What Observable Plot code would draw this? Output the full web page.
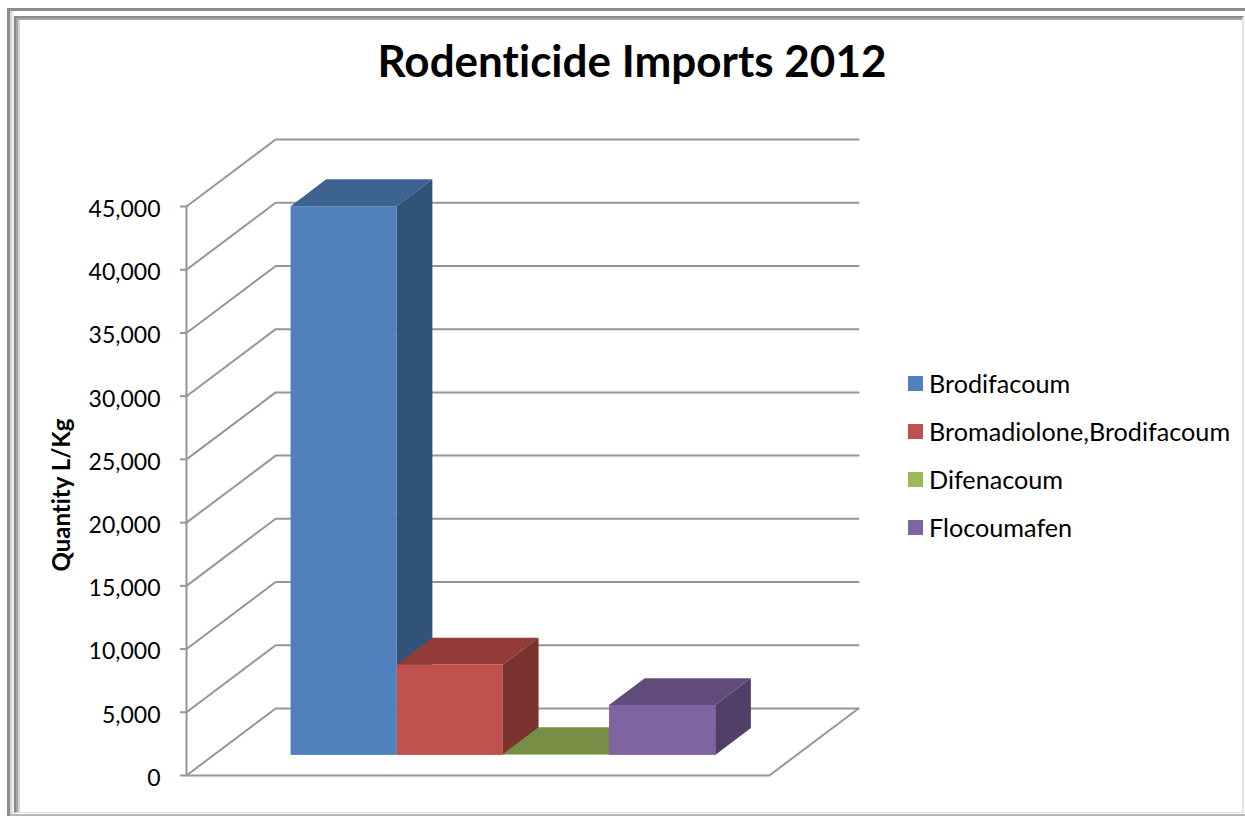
<!DOCTYPE html>
<html>
<head>
<meta charset="utf-8">
<script src="https://cdn.jsdelivr.net/npm/d3@7"></script>
<script src="https://cdn.jsdelivr.net/npm/@observablehq/plot@0.6"></script>
<style>
html,body{margin:0;padding:0;background:#fff;overflow:hidden}
#page{position:relative;width:1245px;height:816px;font-family:Lato,sans-serif;color:#000;overflow:hidden;font-variant-ligatures:none}
#page svg text{font-variant-ligatures:none}
#outer{position:absolute;left:7px;top:8px;width:1240px;height:815px;box-sizing:border-box;border-left:3px solid #8e8e8e;border-top:3px solid #8e8e8e;box-shadow:inset 2px 0 0 #d8d8d8,inset 4px 0 0 #eeeeee}
#inner{position:absolute;left:14px;top:16px;width:1230px;height:797px;box-sizing:border-box;border-left:2px solid #8a8a8a;border-top:2px solid #8a8a8a;border-right:2px solid #e4e4e4;border-bottom:1px solid #dddddd;box-shadow:inset 2px 2px 0 #a6a6a6,inset 4px 2px 0 #d2d2d2}
#bottomline{position:absolute;left:10px;top:814px;width:1235px;height:2px;background:#b8b8b8}
#title{position:absolute;left:0;top:33px;width:1264px;text-align:center;font-size:44px;font-weight:700;line-height:54px;margin:0}
#chart{position:absolute;left:0;top:0}
#legend{position:absolute;left:908px;top:359px}
.row{height:48px;display:flex;align-items:center;font-size:25.2px;white-space:nowrap}
.sw{width:15px;height:15px;margin-right:6px;flex:none}
</style>
</head>
<body>
<div id="page">
  <div id="outer"></div>
  <div id="inner"></div>
  <div id="bottomline"></div>
  <div id="chart"></div>
  <h1 id="title"></h1>
  <div id="legend"></div>
</div>
<script>
const title = "Rodenticide Imports 2012";
const yLabel = "Quantity L/Kg";
const categories = ["Brodifacoum", "Bromadiolone,Brodifacoum", "Difenacoum", "Flocoumafen"];
const values = [43400, 7150, 60, 3950];
const yTicks = [0, 5000, 10000, 15000, 20000, 25000, 30000, 35000, 40000, 45000];

const frontColors = ["#4f81bd", "#c0504d", "#9bbb59", "#8064a2"];
const topColors   = ["#3e6390", "#923b39", "#768f44", "#614b7b"];
const sideColors  = ["#325378", "#7a322f", "#5f7337", "#523f68"];

// Oblique "3D" projection, expressed in data units.
const slots = 5.49;          // floor width, in bar widths
const wallDepthX = 0.84;     // back wall shift, in bar widths
const wallDepthY = 5300;     // back wall rise, in y units
const barStart = 0.985;      // first bar's left edge on the front plane
const barBase = 0.3;         // fraction of depth where bars start
const barDepth = 0.4;        // fraction of depth that bars occupy

const px = (u, d) => u + d * wallDepthX;
const py = (v, d) => v + d * wallDepthY;

const grid = yTicks.flatMap(t => [
  {t, x: px(0, 0), y: py(t, 0)},
  {t, x: px(0, 1), y: py(t, 1)},
  {t, x: px(slots, 1), y: py(t, 1)}
]);
const floor = [
  {x: px(0, 0), y: py(0, 0)},
  {x: px(slots, 0), y: py(0, 0)},
  {x: px(slots, 1), y: py(0, 1)}
];

// One bar = top face, side face, front face; bars are painted left to right.
function barMarks(v, i) {
  const left = barStart + i, right = left + 1;
  const shift = barDepth * wallDepthX;
  const top = [
    {y: py(v, barBase), x1: left, x2: right},
    {y: py(v, barBase + barDepth), x1: left + shift, x2: right + shift}
  ];
  const side = [
    {x: right, y1: py(0, barBase), y2: py(v, barBase)},
    {x: right + shift, y1: py(0, barBase + barDepth), y2: py(v, barBase + barDepth)}
  ];
  const front = [{x1: left, x2: right, y1: py(0, barBase), y2: py(v, barBase)}];
  return [
    Plot.areaX(top, {y: "y", x1: "x1", x2: "x2", fill: topColors[i]}),
    Plot.areaY(side, {x: "x", y1: "y1", y2: "y2", fill: sideColors[i]}),
    Plot.rect(front, {x1: "x1", x2: "x2", y1: "y1", y2: "y2", fill: frontColors[i]})
  ];
}

const gridColor = "#969696";
const plot = Plot.plot({
  width: 1245,
  height: 816,
  marginLeft: 186,
  marginRight: 1245 - 858,
  marginTop: 139,
  marginBottom: 816 - 775,
  style: {fontFamily: "Lato, sans-serif", background: "transparent"},
  x: {domain: [0, slots + wallDepthX], axis: null},
  y: {domain: [0, 45000 + wallDepthY], axis: null},
  marks: [
    Plot.line(grid, {x: "x", y: "y", z: "t", stroke: gridColor, strokeWidth: 2}),
    Plot.line(floor, {x: "x", y: "y", stroke: gridColor, strokeWidth: 2}),
    Plot.ruleX([0], {y1: 0, y2: 45000, stroke: gridColor, strokeWidth: 2}),
    Plot.axisY({ticks: yTicks, tickSize: 6, tickFormat: () => "", stroke: gridColor, strokeWidth: 2, label: null}),
    Plot.axisY({
      ticks: yTicks, tickSize: 0, tickPadding: 26, fontSize: 23, label: null, dy: 3,
      tickFormat: d3.format(","), fill: "#000"
    }),
    ...values.flatMap(barMarks),
    Plot.text([yLabel], {
      frameAnchor: "left", rotate: -90, dx: -124, dy: 114,
      fontSize: 24, fontWeight: 700, fill: "#000"
    })
  ]
});
document.getElementById("chart").append(plot);
document.getElementById("title").textContent = title;

const legend = d3.select("#legend");
categories.forEach((c, i) => {
  const r = legend.append("div").attr("class", "row");
  r.append("div").attr("class", "sw").style("background", frontColors[i]);
  r.append("span").text(c);
});
</script>
</body>
</html>
